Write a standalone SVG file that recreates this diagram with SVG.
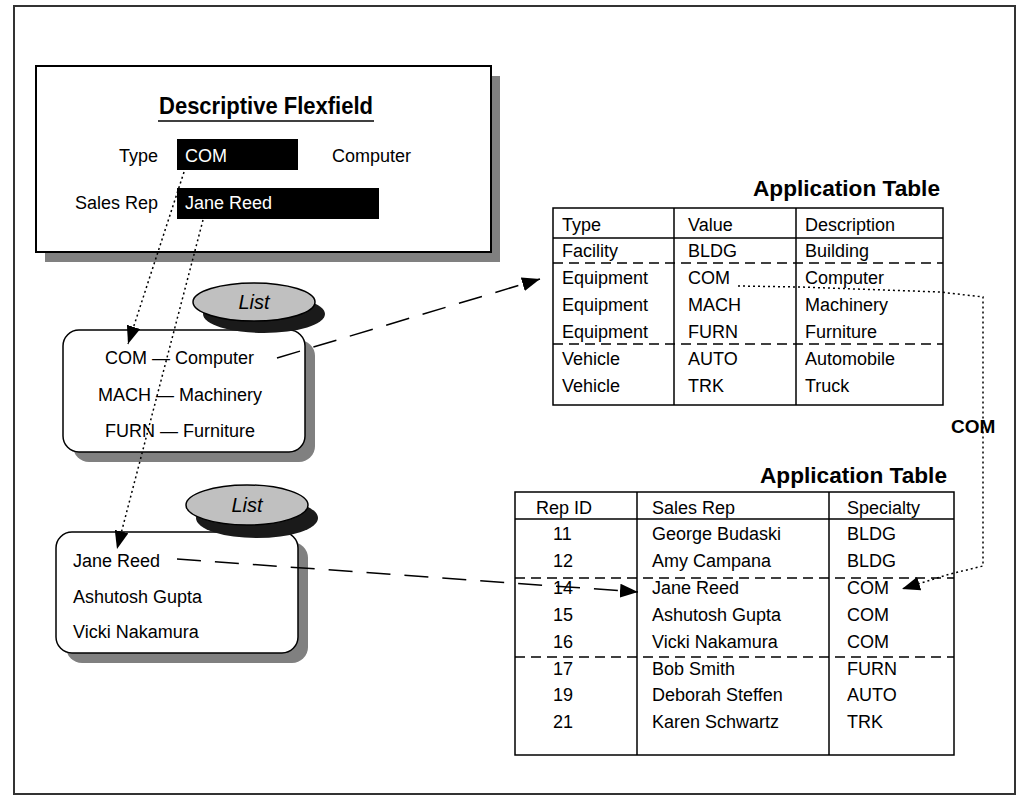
<svg xmlns="http://www.w3.org/2000/svg" width="1019" height="796" viewBox="0 0 1019 796">
<style>
text{font-family:"Liberation Sans",Arial,sans-serif;font-size:18px;fill:#000}
.title{font-weight:bold;font-size:22px}
.big{font-size:24px}
.wt{fill:#fff}
.lst{font-style:italic;font-size:20px}
.ln{stroke:#000;stroke-width:1.5;fill:none}
.dsh{stroke:#000;stroke-width:1.5;stroke-dasharray:10 6;fill:none}
.dot{stroke:#000;stroke-width:1.5;stroke-dasharray:2 3;fill:none}
.lng{stroke:#000;stroke-width:1.5;stroke-dasharray:24 14;fill:none}
</style>
<defs>
<marker id="ah" markerUnits="userSpaceOnUse" markerWidth="20" markerHeight="14" refX="18" refY="7" orient="auto" viewBox="0 0 20 14">
<path d="M0,0 L18,7 L0,14 z" fill="#000"/>
</marker>
</defs>
<rect width="1019" height="796" fill="#fff"/>
<rect x="14" y="6" width="1001" height="788" fill="none" stroke="#333" stroke-width="2"/>

<g id="flexfield">
<rect x="45" y="76" width="455" height="186" fill="#808080"/>
<rect x="36" y="66" width="455" height="186" fill="#fff" stroke="#000" stroke-width="2"/>
<text class="title big" x="266" y="114" text-anchor="middle" textLength="214" lengthAdjust="spacingAndGlyphs">Descriptive Flexfield</text>
<line x1="158" y1="121" x2="374" y2="121" stroke="#000" stroke-width="1.5"/>
<text x="158" y="162" text-anchor="end">Type</text>
<rect x="177" y="139" width="121" height="31" fill="#000"/>
<text class="wt" x="185" y="162">COM</text>
<text x="332" y="162">Computer</text>
<text x="158" y="209" text-anchor="end">Sales Rep</text>
<rect x="177" y="188" width="202" height="31" fill="#000"/>
<text class="wt" x="185" y="209">Jane Reed</text>
</g>

<g id="list1">
<rect x="73" y="340" width="242" height="122" rx="16" fill="#808080"/>
<rect x="63" y="330" width="242" height="122" rx="16" fill="#fff" stroke="#000" stroke-width="1.5"/>
<ellipse cx="264" cy="314" rx="61" ry="19" fill="#1a1a1a"/>
<ellipse cx="254" cy="302" rx="61" ry="19" fill="#c0c0c0" stroke="#000" stroke-width="1.5"/>
<text class="lst" x="254" y="309" text-anchor="middle">List</text>
<text x="105" y="364">COM — Computer</text>
<text x="98" y="401">MACH — Machinery</text>
<text x="105" y="437">FURN — Furniture</text>
</g>

<g id="list2">
<rect x="66" y="542" width="242" height="121" rx="16" fill="#808080"/>
<rect x="56" y="532" width="242" height="121" rx="16" fill="#fff" stroke="#000" stroke-width="1.5"/>
<ellipse cx="257" cy="518" rx="61" ry="20" fill="#1a1a1a"/>
<ellipse cx="247" cy="505" rx="61" ry="20" fill="#c0c0c0" stroke="#000" stroke-width="1.5"/>
<text class="lst" x="247" y="512" text-anchor="middle">List</text>
<text x="73" y="567">Jane Reed</text>
<text x="73" y="603">Ashutosh Gupta</text>
<text x="73" y="638">Vicki Nakamura</text>
</g>

<g id="table1">
<text class="title" x="753" y="196" textLength="187" lengthAdjust="spacingAndGlyphs">Application Table</text>
<rect x="553" y="208" width="390" height="197" fill="#fff" stroke="#000" stroke-width="1.5"/>
<line class="ln" x1="674" y1="208" x2="674" y2="405"/>
<line class="ln" x1="796" y1="208" x2="796" y2="405"/>
<line class="ln" x1="553" y1="238" x2="943" y2="238"/>
<line class="dsh" x1="553" y1="263" x2="943" y2="263"/>
<line class="dsh" x1="553" y1="344" x2="943" y2="344"/>
<text x="562" y="231">Type</text><text x="688" y="231">Value</text><text x="805" y="231">Description</text>
<text x="562" y="257">Facility</text><text x="688" y="257">BLDG</text><text x="805" y="257">Building</text>
<text x="562" y="284">Equipment</text><text x="688" y="284">COM</text><text x="805" y="284">Computer</text>
<text x="562" y="311">Equipment</text><text x="688" y="311">MACH</text><text x="805" y="311">Machinery</text>
<text x="562" y="338">Equipment</text><text x="688" y="338">FURN</text><text x="805" y="338">Furniture</text>
<text x="562" y="365">Vehicle</text><text x="688" y="365">AUTO</text><text x="805" y="365">Automobile</text>
<text x="562" y="392">Vehicle</text><text x="688" y="392">TRK</text><text x="805" y="392">Truck</text>
</g>

<g id="table2">
<text class="title" x="760" y="483" textLength="187" lengthAdjust="spacingAndGlyphs">Application Table</text>
<rect x="515" y="492" width="439" height="263" fill="#fff" stroke="#000" stroke-width="1.5"/>
<line class="ln" x1="637" y1="492" x2="637" y2="755"/>
<line class="ln" x1="829" y1="492" x2="829" y2="755"/>
<line class="ln" x1="515" y1="519" x2="954" y2="519"/>
<line class="dsh" x1="515" y1="578" x2="954" y2="578"/>
<line class="dsh" x1="515" y1="657" x2="954" y2="657"/>
<text x="536" y="514">Rep ID</text><text x="652" y="514">Sales Rep</text><text x="847" y="514">Specialty</text>
<text x="553" y="540">11</text><text x="652" y="540">George Budaski</text><text x="847" y="540">BLDG</text>
<text x="553" y="567">12</text><text x="652" y="567">Amy Campana</text><text x="847" y="567">BLDG</text>
<text x="553" y="594">14</text><text x="652" y="594">Jane Reed</text><text x="847" y="594">COM</text>
<text x="553" y="621">15</text><text x="652" y="621">Ashutosh Gupta</text><text x="847" y="621">COM</text>
<text x="553" y="648">16</text><text x="652" y="648">Vicki Nakamura</text><text x="847" y="648">COM</text>
<text x="553" y="675">17</text><text x="652" y="675">Bob Smith</text><text x="847" y="675">FURN</text>
<text x="553" y="701">19</text><text x="652" y="701">Deborah Steffen</text><text x="847" y="701">AUTO</text>
<text x="553" y="728">21</text><text x="652" y="728">Karen Schwartz</text><text x="847" y="728">TRK</text>
</g>

<g id="connectors">
<line class="dot" x1="184" y1="172" x2="128" y2="344" marker-end="url(#ah)"/>
<line class="dot" x1="203" y1="220" x2="117" y2="549" marker-end="url(#ah)"/>
<line class="lng" x1="277" y1="358" x2="540" y2="279" marker-end="url(#ah)"/>
<line class="lng" x1="177" y1="559" x2="638" y2="592" marker-end="url(#ah)"/>
<polyline class="dot" points="738,286 800,287 940,292 983,297 983,566 950,574 902,589" marker-end="url(#ah)"/>
<text class="title" x="951" y="433" style="font-size:19px">COM</text>
</g>
</svg>
